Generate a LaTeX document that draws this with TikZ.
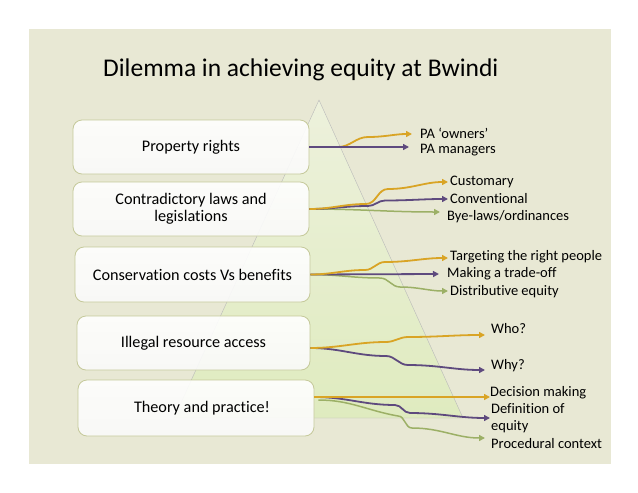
\documentclass[tikz,border=0pt]{standalone}
\usepackage{fontspec}
\setmainfont{Carlito}[Ligatures=NoCommon]
\usetikzlibrary{arrows.meta}
\definecolor{bgc}{HTML}{E8E8D4}
\definecolor{trigreen}{HTML}{DFEBBF}
\definecolor{trilight}{HTML}{EDF1DC}
\definecolor{boxborder}{HTML}{C5C99A}
\definecolor{orng}{HTML}{D9A425}
\definecolor{purp}{HTML}{5E4A7E}
\definecolor{grn}{HTML}{9CB066}
\begin{document}
\begin{tikzpicture}[x=1pt,y=-1pt,
  itembox/.style={draw=boxborder, line width=0.8pt, rounded corners=9pt,
    top color=white, bottom color=white!96!gray, fill opacity=0.9, text opacity=1,
    minimum width=236pt, minimum height=54pt, inner sep=0pt,
    font=\fontsize{16.2}{17}\selectfont, align=center},
  lbl/.style={anchor=west, inner sep=0pt, font=\fontsize{14.5}{17}\selectfont},
  conn/.style={line width=1.8pt, -{Triangle[length=6pt,width=6pt]}},
  sbend/.style={out=0,in=180},
]
\useasboundingbox (0,0) rectangle (638,493);
\fill[white] (0,0) rectangle (638,493);
\fill[bgc] (29,29) rectangle (611,464);

% pyramid
\shade[top color=trilight, bottom color=trigreen, draw=gray!55, line width=0.4pt]
  (319,100) -- (463,418) -- (174,418) -- cycle;

\node[anchor=west, inner sep=0pt, font=\fontsize{25.5}{30}\selectfont] (title) at (103,70) {Dilemma in achieving equity at Bwindi};

% boxes
\node[itembox] (b1) at (191,147) {Property rights};
\node[itembox] (b2) at (191,209) {Contradictory laws and\\legislations};
\node[itembox, minimum width=235pt, minimum height=55pt] (b3) at (192.5,274.5) {Conservation costs Vs benefits};
\node[itembox, minimum width=233pt] (b4) at (193.5,343) {Illegal resource access};
\node[itembox, minimum height=56pt] (b5) at (196,408) {\hspace*{12pt}Theory and practice!};

% labels
\node[lbl] (l11) at (420,133) {PA ‘owners’};
\node[lbl] (l12) at (420,150) {PA managers};
\node[lbl] (l21) at (450,182) {Customary};
\node[lbl] (l22) at (450,199) {Conventional};
\node[lbl] (l23) at (447,217) {Bye-laws/ordinances};
\node[lbl] (l31) at (450,257) {Targeting the right people};
\node[lbl] (l32) at (447,274) {Making a trade-off};
\node[lbl] (l33) at (450,292) {Distributive equity};
\node[lbl] (l41) at (491,329) {Who?};
\node[lbl] (l42) at (491,366) {Why?};
\node[lbl] (l51) at (490,393) {Decision making};
\node[lbl, align=left, font=\fontsize{14.5}{17.5}\selectfont] (l52) at (491,418) {Definition of\\equity};
\node[lbl] (l53) at (491,444) {Procedural context};

% arrow end points
\coordinate (e11) at (412,134);
\coordinate (e12) at (409,147);
\coordinate (e21) at (448,182);
\coordinate (e22) at (448,199);
\coordinate (e23) at (440,212);
\coordinate (e31) at (448,258);
\coordinate (e32) at (439,274);
\coordinate (e33) at (448,291);
\coordinate (e41) at (485,335);
\coordinate (e42) at (485,370);
\coordinate (e51) at (490,397);
\coordinate (e52) at (490,418);
\coordinate (e53) at (485,438);

% row 1
\draw[conn, orng] (b1.east) -- (338,147) to[sbend] (368,137) to[sbend] (e11);
\draw[conn, purp] (b1.east) -- (e12);
% row 2
\draw[conn, grn, line width=1.5pt] (b2.east) to[sbend] (e23);
\draw[conn, purp] (b2.east) to[sbend] (368,206) to[sbend] (385,200.5) to[sbend] (e22);
\draw[conn, orng] (b2.east) to[sbend] (366,204) to[sbend] (388,189) to[sbend] (e21);
% row 3
\draw[conn, grn, line width=1.5pt] (b3.east) to[sbend] (380,278) to[sbend] (400,287) to[sbend] (e33);
\draw[conn, purp] (b3.east) -- (e32);
\draw[conn, orng] (b3.east) to[sbend] (365,270) to[sbend] (385,262) to[sbend] (e31);
% row 4
\draw[conn, purp] ([yshift=-5pt]b4.east) to[sbend] (386,356) to[sbend] (408,365) to[sbend] (e42);
\draw[conn, orng] ([yshift=-5pt]b4.east) to[sbend] (386,342) to[sbend] (408,337) to[sbend] (e41);
% row 5
\draw[conn, grn, line width=1.5pt] ([xshift=4pt,yshift=8pt]b5.east) to[out=0,in=170] (398,416) to[sbend] (412,428) to[sbend] (e53);
\draw[conn, purp] ([yshift=11pt]b5.east) to[sbend] (395,405) to[sbend] (410,413) to[sbend] (e52);
\draw[conn, orng] ([yshift=11pt]b5.east) -- (e51);
\end{tikzpicture}
\end{document}
